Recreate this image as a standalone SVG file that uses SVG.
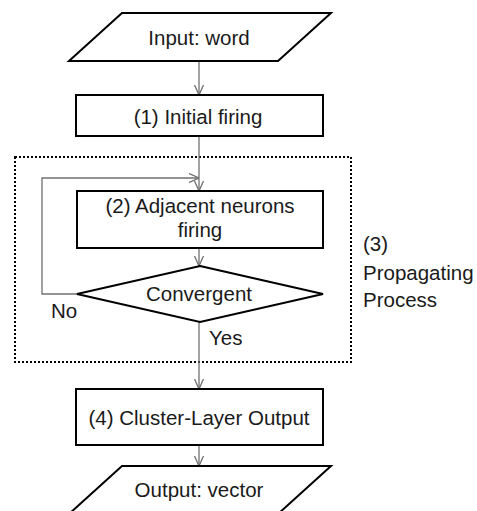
<svg xmlns="http://www.w3.org/2000/svg" width="477" height="511" viewBox="0 0 477 511">
<defs>
<style>
.box{fill:#fff;stroke:#000;stroke-width:2}
.t{font-family:"Liberation Sans",Arial,sans-serif;font-size:20.5px;fill:#1a1a1a;text-anchor:middle}
.tl{font-family:"Liberation Sans",Arial,sans-serif;font-size:20.5px;fill:#1a1a1a}
.c{fill:none;stroke:#707070;stroke-width:1.3}
</style>
<marker id="ah" viewBox="0 0 10 10" refX="10" refY="5" markerWidth="10" markerHeight="10" markerUnits="userSpaceOnUse" orient="auto">
<path d="M0,0.5 L10,5 L0,9.5" fill="none" stroke="#707070" stroke-width="1.3"/>
</marker>
</defs>
<rect width="477" height="511" fill="#fff"/>
<rect id="group3" x="15" y="157" width="336" height="205" fill="none" stroke="#000" stroke-width="2" stroke-dasharray="2,2"/>
<g id="connectors">
<line class="c" x1="199" y1="61" x2="199" y2="95" marker-end="url(#ah)"/>
<line class="c" x1="199" y1="136" x2="199" y2="191" marker-end="url(#ah)"/>
<polyline class="c" points="77,294 42,294 42,178 199,178" marker-end="url(#ah)"/>
<line class="c" x1="199" y1="248" x2="199" y2="266" marker-end="url(#ah)"/>
<line class="c" x1="199" y1="322" x2="199" y2="389" marker-end="url(#ah)"/>
<line class="c" x1="199" y1="445" x2="199" y2="466" marker-end="url(#ah)"/>
</g>
<g id="input">
<polygon class="box" points="122,13 331,13 278,61 69,61"/>
<text class="t" x="199" y="45">Input: word</text>
</g>
<g id="step1">
<rect class="box" x="76" y="95" width="247" height="41"/>
<text class="t" x="198" y="124">(1) Initial firing</text>
</g>
<g id="step2">
<rect class="box" x="77" y="191" width="246" height="57"/>
<text class="t" x="200" y="213">(2) Adjacent neurons</text>
<text class="t" x="200" y="237">firing</text>
</g>
<g id="decision">
<polygon class="box" points="200,266 323,294 200,322 77,294"/>
<text class="t" x="199" y="301">Convergent</text>
</g>
<text class="tl" x="51" y="318">No</text>
<text class="tl" x="209" y="345">Yes</text>
<g id="label3">
<text class="tl" x="363" y="251">(3)</text>
<text class="tl" x="363" y="280">Propagating</text>
<text class="tl" x="363" y="307">Process</text>
</g>
<g id="step4">
<rect class="box" x="76" y="389" width="247" height="56"/>
<text class="t" x="199" y="425">(4) Cluster-Layer Output</text>
</g>
<g id="output">
<polygon class="box" points="122,466 331,466 278,514 69,514"/>
<text class="t" x="199" y="497">Output: vector</text>
</g>
</svg>
